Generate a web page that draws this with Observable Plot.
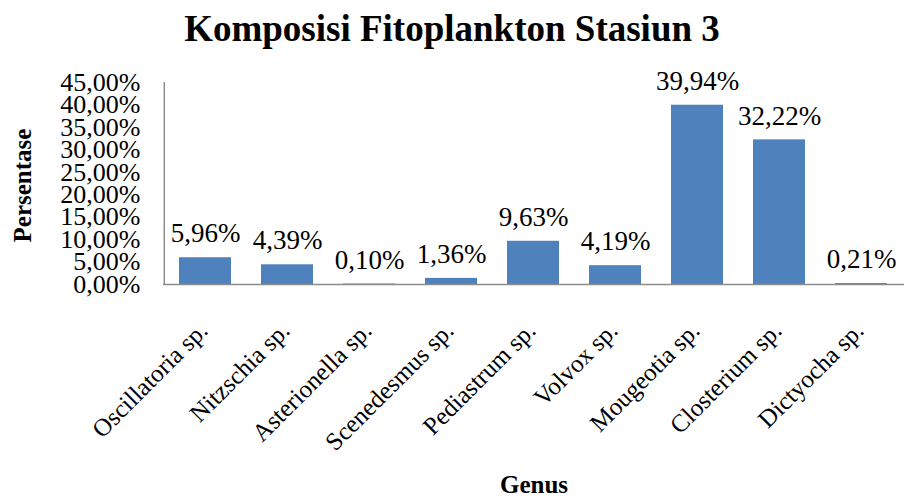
<!DOCTYPE html>
<html>
<head>
<meta charset="utf-8">
<script src="https://cdn.jsdelivr.net/npm/d3@7"></script>
<script src="https://cdn.jsdelivr.net/npm/@observablehq/plot@0.6"></script>
<style>
  body { margin: 0; background: #fff; }
  #wrap { position: relative; width: 904px; height: 504px; overflow: hidden; }
  #title { position: absolute; top: 6px; left: 0; width: 904px; text-align: center;
    font-family: "Liberation Serif", "Times New Roman", serif; font-weight: bold; font-size: 37px; line-height: 46px; color: #000; }
</style>
</head>
<body>
<div id="wrap"><div id="title">Komposisi Fitoplankton Stasiun 3</div></div>
<script>
const genus = ["Oscillatoria sp.", "Nitzschia sp.", "Asterionella sp.", "Scenedesmus sp.", "Pediastrum sp.", "Volvox sp.", "Mougeotia sp.", "Closterium sp.", "Dictyocha sp."];
const persen = [5.96, 4.39, 0.10, 1.36, 9.63, 4.19, 39.94, 32.22, 0.21];
const yTicks = [0, 5, 10, 15, 20, 25, 30, 35, 40, 45];
const yLabel = "Persentase";
const xLabel = "Genus";

const data = genus.map((g, i) => ({genus: g, value: persen[i]}));
const fmt = d => d.toFixed(2).replace(".", ",") + "%";
const serif = "'Liberation Serif', 'Times New Roman', serif";

const chart = Plot.plot({
  width: 904,
  height: 504,
  marginLeft: 163,
  marginRight: 0,
  marginTop: 82,
  marginBottom: 220,
  style: {fontFamily: serif, color: "#000", background: "#fff"},
  x: {domain: genus, paddingInner: 0.36, paddingOuter: 0.18, axis: null},
  y: {domain: [0, 45], axis: null},
  marks: [
    Plot.barY(data, {x: "genus", y: "value", fill: "#4F81BD"}),
    Plot.ruleY([0], {stroke: "#8c8c8c", strokeWidth: 1.5}),
    Plot.ruleX([genus[0]], {y1: 0, y2: 45, dx: -41.2, stroke: "#8c8c8c", strokeWidth: 1.5}),
    Plot.axisY({ticks: yTicks, tickFormat: fmt, tickSize: 0, tickPadding: 23, fontSize: 26, label: null}),
    Plot.text(data, {x: "genus", y: "value", text: d => fmt(d.value), dy: -24, fontSize: 27}),
    Plot.text(data, {x: "genus", y: 0, text: "genus", rotate: -45, textAnchor: "end", dx: -2, dy: 42, fontSize: 25}),
    Plot.text([yLabel], {frameAnchor: "left", textAnchor: "middle", dx: -141, dy: 2, rotate: -90, fontSize: 25, fontWeight: "bold"}),
    Plot.text([xLabel], {frameAnchor: "bottom", dy: 208, fontSize: 25, fontWeight: "bold"})
  ]
});
document.getElementById("wrap").appendChild(chart);
</script>
</body>
</html>
